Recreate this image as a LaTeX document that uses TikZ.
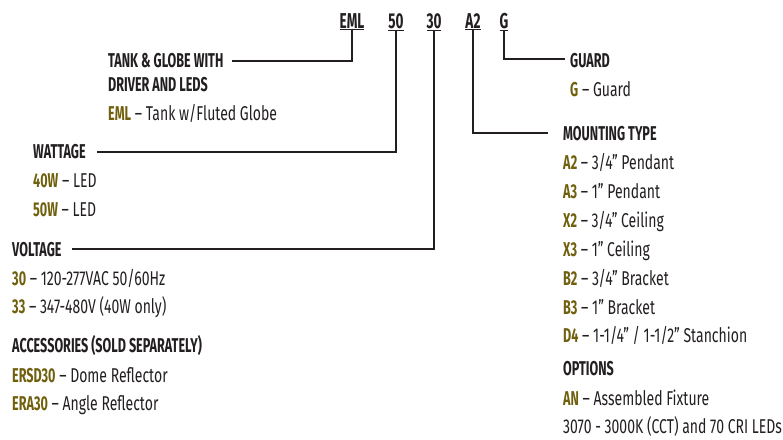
\documentclass[tikz,border=0pt]{standalone}
\usepackage{fontspec}
\setmainfont{Fira Sans}[FakeStretch=0.70,BoldFeatures={FakeStretch=0.63}]
\definecolor{codegold}{RGB}{112,96,14}
\definecolor{inkdark}{RGB}{35,31,32}
\newcommand{\cd}[1]{{\bfseries\color{codegold}#1}}

\begin{document}
\begin{tikzpicture}[x=1pt,y=-1pt,line cap=butt,line join=miter,
  every node/.style={inner sep=0pt,text=inkdark},
  partcode/.style={anchor=base,font=\fontsize{21.5}{23}\selectfont\bfseries},
  heading/.style={anchor=base west,font=\fontsize{20}{22}\selectfont\bfseries},
  item/.style={anchor=base west,font=\fontsize{20}{22}\selectfont},
  lead/.style={draw=inkdark,line width=2.6pt}]
\useasboundingbox (0,0) rectangle (783,439);
% part number
\node[partcode] (pEML) at (352,28) {\underline{EML}};
\node[partcode] (p50) at (396,28) {\underline{50}};
\node[partcode] (p30) at (434,28) {\underline{30}};
\node[partcode] (pA2) at (473,28) {\underline{A2}};
\node[partcode] (pG) at (504,28) {\underline{G}};
% line ends
\coordinate (tankend) at (232,61);
\coordinate (wattend) at (97,152);
\coordinate (voltend) at (72,249);
\coordinate (mountend) at (548,133);
\coordinate (guardend) at (565,59);
% leaders
\draw[lead] (pEML.south) |- (tankend);
\draw[lead] (p50.south) |- (wattend);
\draw[lead] (p30.south) |- (voltend);
\draw[lead] (pA2.south) |- (mountend);
\draw[lead] (pG.south) |- (guardend);
% left column
\node[heading] (tank) at (108,67) {TANK \& GLOBE WITH};
\node[heading] (tank2) at (108,91) {DRIVER AND LEDS};
\node[item] (eml) at (108,120) {\cd{EML} – Tank w/Fluted Globe};
\node[heading] (watt) at (33,158) {WATTAGE};
\node[item] (w40) at (33,187) {\cd{40W} – LED};
\node[item] (w50) at (33,216) {\cd{50W} – LED};
\node[heading] (volt) at (12,256) {VOLTAGE};
\node[item] (v30) at (12,285) {\cd{30} – 120-277VAC 50/60Hz};
\node[item] (v33) at (12,313) {\cd{33} – 347-480V (40W only)};
\node[heading] (acc) at (12,352) {ACCESSORIES (SOLD SEPARATELY)};
\node[item] (ersd) at (12,382) {\cd{ERSD30} – Dome Reflector};
\node[item] (era) at (12,410) {\cd{ERA30} – Angle Reflector};
% right column
\node[heading] (guard) at (570,67) {GUARD};
\node[item] (g) at (570,96) {\cd{G} – Guard};
\node[heading] (mount) at (563,140) {MOUNTING TYPE};
\node[item] (a2) at (563,169) {\cd{A2} – 3/4” Pendant};
\node[item] (a3) at (563,198) {\cd{A3} – 1” Pendant};
\node[item] (x2) at (563,227) {\cd{X2} – 3/4” Ceiling};
\node[item] (x3) at (563,256) {\cd{X3} – 1” Ceiling};
\node[item] (b2) at (563,285) {\cd{B2} – 3/4” Bracket};
\node[item] (b3) at (563,314) {\cd{B3} – 1” Bracket};
\node[item] (d4) at (563,342) {\cd{D4} – 1-1/4” / 1-1/2” Stanchion};
\node[heading] (opt) at (563,375) {OPTIONS};
\node[item] (an) at (563,405) {\cd{AN} – Assembled Fixture};
\node[item] (cct) at (563,433) {3070 - 3000K (CCT) and 70 CRI LEDs};
\end{tikzpicture}
\end{document}
